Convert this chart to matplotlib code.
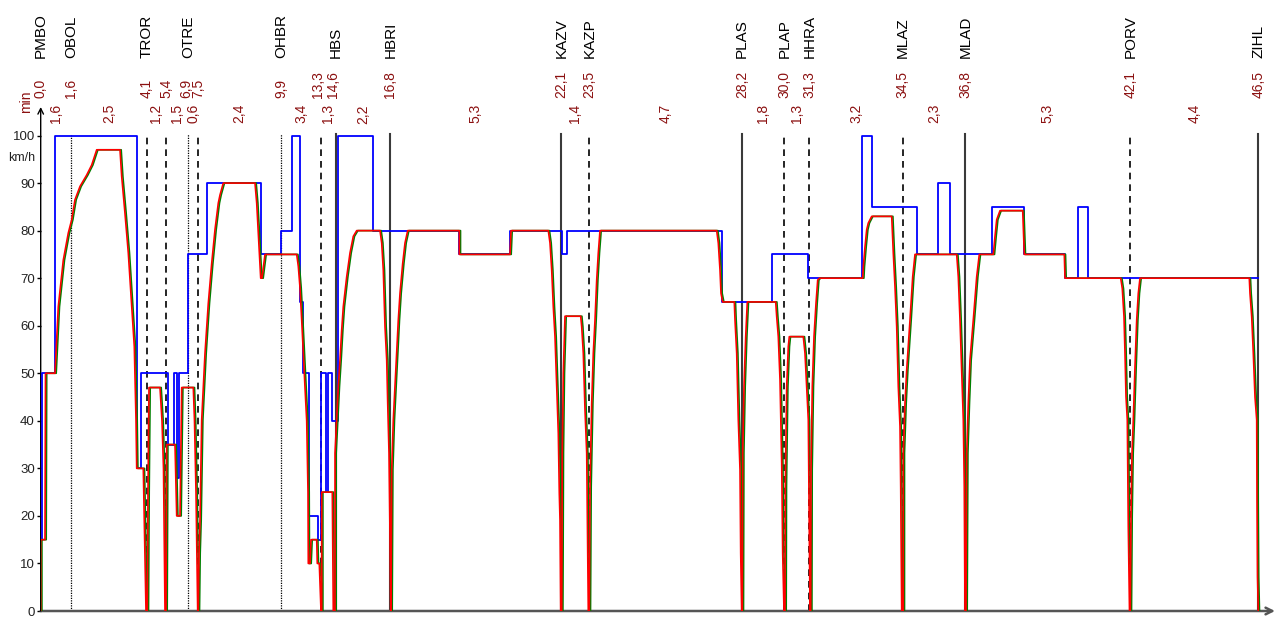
import matplotlib
matplotlib.use("Agg")
import matplotlib.pyplot as plt
import matplotlib.transforms as mtransforms

plt.rcParams['font.family'] = ['Liberation Sans', 'DejaVu Sans']

# ---------------- data ----------------
# stations: position along the line (m), names, arrival times (min), marker style
station_x = [0, 612, 2120, 2506, 2952, 3146, 4806, 5606, 5896, 6992, 10412, 10972,
             14026, 14872, 15372, 17240, 18492, 21792, 24352]
station_names = ['PMBO', 'OBOL', 'TROR', '', 'OTRE', '', 'OHBR', '', 'HBS', 'HBRI', 'KAZV',
                 'KAZP', 'PLAS', 'PLAP', 'HHRA', 'MLAZ', 'MLAD', 'PORV', 'ZIHL']
station_times = ['0,0', '1,6', '4,1', '5,4', '6,9', '7,5', '9,9', '13,3', '14,6', '16,8',
                 '22,1', '23,5', '28,2', '30,0', '31,3', '34,5', '36,8', '42,1', '46,5']
station_kind = ['axis', 'dotted', 'dashed', 'dashed', 'dotted', 'dashed', 'dotted', 'dashed',
                'solid', 'solid', 'solid', 'dashed', 'solid', 'dashed', 'dashed', 'dashed',
                'solid', 'dashed', 'solid']
segment_times = ['1,6', '2,5', '1,2', '1,5', '0,6', '2,4', '3,4', '1,3', '2,2', '5,3',
                 '1,4', '4,7', '1,8', '1,3', '3,2', '2,3', '5,3', '4,4']

# speed limit (step function, value valid from position onwards)
limit_x = [32, 32, 286, 1932, 2000, 2552, 2672, 2726, 2766, 2952, 3326, 4400, 4806, 5020,
           5186, 5240, 5372, 5552, 5606, 5706, 5752, 5832, 5940, 6652, 8372, 9386, 10420,
           10520, 13620, 14632, 15352, 16420, 16632, 17520, 17952, 18186, 19032, 19672,
           20486, 20740, 20952, 24352]
limit_v = [15, 50, 100, 30, 50, 35, 50, 28, 50, 75, 90, 75, 80, 100,
           65, 50, 20, 15, 50, 25, 50, 40, 100, 80, 75, 80, 75,
           80, 65, 75, 70, 100, 85, 75, 90, 75, 85, 75,
           70, 85, 70, 70]

# driven speed profile
speed_x = [0, 0, 86, 96, 286, 352, 452, 552, 620, 686, 786, 920, 1020, 1120, 1586, 1620,
           1686, 1752, 1820, 1872, 1906, 1920, 2052, 2086, 2106,
           2132, 2146, 2166, 2386, 2426, 2456, 2486,
           2506, 2520, 2686, 2720, 2786, 2806, 2820, 3052, 3076, 3106, 3140,
           3152, 3166, 3186, 3220, 3286, 3352, 3420, 3486, 3552, 3586, 3652, 4286, 4320,
           4352, 4386, 4400, 4426, 4486, 5120, 5152, 5186, 5220, 5252, 5286, 5320, 5346,
           5352, 5386, 5406, 5520, 5532, 5572, 5606,
           5620, 5620, 5832, 5852,
           5886, 5886, 5920, 5952, 5986, 6020, 6052, 6120, 6186, 6252, 6320, 6786, 6820,
           6852, 6886, 6920, 6940, 6966, 6986, 7000,
           7006, 7020, 7052, 7086, 7120, 7152, 7186, 7240, 7286, 7340, 8372, 8372, 9386,
           9406, 10152, 10186, 10220, 10252, 10286, 10320, 10352, 10372, 10386, 10400,
           10420, 10432, 10452, 10486, 10800, 10820, 10852, 10886, 10920, 10940, 10952,
           10972, 10986, 11000, 11020, 11052, 11086, 11120, 11152, 11186, 13520, 13552,
           13586, 13606, 13640, 13872, 13886, 13920, 13952, 13986, 14000, 14020,
           14032, 14040, 14066, 14100, 14132, 14700, 14720, 14752, 14786, 14820, 14840, 14866,
           14886, 14892, 14920, 14952, 14972, 15252, 15286, 15320, 15352, 15372, 15386,
           15400, 15406, 15432, 15466, 15506, 15540, 15572, 16440, 16452, 16486, 16520,
           16552, 16620, 17020, 17052, 17086, 17120, 17152, 17186, 17200, 17220,
           17252, 17252, 17286, 17320, 17386, 17440, 17486, 18320, 18352, 18386, 18420,
           18452, 18472, 18486,
           18506, 18520, 18552, 18586, 18652, 18720, 18772, 19052, 19086, 19120, 19186,
           19640, 19672, 20472, 20486, 21600, 21632, 21666, 21686, 21706, 21732, 21752, 21776,
           21792, 21806, 21826, 21852, 21886, 21920, 21952, 21986, 24172, 24186, 24220,
           24252, 24286, 24320, 24326, 24336, 24352]
speed_v = [0, 15, 15, 50, 50, 64, 73.8, 79.5, 82.3, 86.5, 89.3, 91.7, 93.8, 97, 97, 91.4,
           83.6, 75.3, 64, 55.6, 40.2, 30, 30, 10.7, 0,
           0, 25, 47, 47, 40, 30, 0,
           0, 35, 35, 20, 20, 35, 47, 47, 40, 25, 0,
           0, 12.1, 19.1, 40.2, 54.2, 64.7, 73.1, 80.2, 85.8, 87.5, 90, 90, 85.8,
           79.5, 72.5, 70, 70, 75, 75, 72.5, 68, 61.2, 54.2, 47, 40, 25,
           10, 10, 15, 15, 10, 10, 0,
           0, 25, 25, 0,
           0, 33.2, 40.2, 47.2, 52.8, 59.1, 64, 70.3, 75.3, 78.8, 80, 80, 77.4,
           71.7, 59.8, 52.8, 43.7, 33.2, 15.6, 0,
           0, 29.7, 40.2, 47.2, 54.2, 61.2, 66.8, 73.1, 77.4, 80, 80, 75, 75,
           80, 80, 77.4, 71.7, 64, 57.7, 47.2, 37.4, 24.8, 19.1, 0,
           0, 33.2, 50, 62, 62, 59.8, 54.2, 42.3, 33.2, 13.5, 0,
           0, 26.2, 33.2, 43.7, 54.2, 61.2, 69.6, 75.3, 80, 80, 77.4,
           71.7, 66.8, 65, 65, 61.2, 54.2, 40.2, 29.7, 12.1, 0,
           0, 33.2, 47.2, 57.7, 65, 65, 61.9, 57.7, 48.6, 31.1, 12.1, 0,
           0, 26.2, 47.2, 55.6, 57.7, 57.7, 54.2, 47.2, 40.2, 15.6, 0,
           0, 29.7, 47.2, 57.7, 64.7, 69.6, 70, 70, 72.4, 76.6, 80.2,
           81.6, 83, 83, 75.3, 68.2, 59.8, 47.2, 38.8, 26.2, 0,
           0, 33.2, 43.7, 50.7, 61.2, 70.3, 75, 75, 70.3, 61.2, 50.7,
           40.2, 26.2, 0,
           0, 33.2, 43.7, 52.8, 61.2, 70.3, 75, 75, 78.8, 82.3, 84.2,
           84.2, 75, 75, 70, 70, 67.8, 61.9, 54.2, 45.1, 40.2, 17.7, 0,
           0, 20, 33.2, 40.2, 51.4, 61.2, 66.8, 70, 70, 66.8, 61.9,
           54.2, 45, 40.2, 23, 7.2, 0]

# ---------------- figure ----------------
W, H = 1283, 619
fig = plt.figure(figsize=(W / 100, H / 100), dpi=100)
ax_left_px, ax_right_px, ax_bottom_px, ax_top_px = 40.7, 1275, 611, 107
ax = fig.add_axes([ax_left_px / W, 1 - ax_bottom_px / H,
                   (ax_right_px - ax_left_px) / W, (ax_bottom_px - ax_top_px) / H])
xmax = 24686
ax.set_xlim(0, xmax)
ax.set_ylim(0, 106)
for s in ax.spines.values():
    s.set_visible(False)
ax.set_xticks([])
ax.set_yticks(range(0, 101, 10))
ax.tick_params(axis='y', length=3.2, width=1, pad=1, labelsize=9.5,
               labelcolor='#222222', color='black')

# axes with arrows
ax.annotate('', xy=(xmax, 0), xytext=(0, 0), annotation_clip=False,
            arrowprops=dict(arrowstyle='->', color='#555555', lw=1.8,
                            shrinkA=0, shrinkB=0, mutation_scale=12))
ax.annotate('', xy=(0, 106), xytext=(0, 0), annotation_clip=False,
            arrowprops=dict(arrowstyle='->', color='black', lw=1.0,
                            shrinkA=0, shrinkB=0, mutation_scale=10))

# station lines
styles = {
    'solid': dict(color='#3a3a3a', lw=1.5, ls='-'),
    'dashed': dict(color='black', lw=1.2, ls=(0, (4, 3))),
    'dotted': dict(color='black', lw=0.9, ls=(0, (1, 1))),
}
for x, k in zip(station_x, station_kind):
    if k in styles:
        ax.plot([x, x], [0, 100.4], zorder=2, **styles[k])

# speed limit and speed profile
ax.step(limit_x, limit_v, where='post', color='#0000FF', lw=1.3, zorder=3)
green_tr = mtransforms.offset_copy(ax.transData, fig=fig, x=1.2, y=0, units='dots')
ax.plot(speed_x, speed_v, color='#008000', lw=1.2, zorder=4, transform=green_tr)
ax.plot(speed_x, speed_v, color='#FF0000', lw=1.2, zorder=5)

# texts
trans = mtransforms.blended_transform_factory(ax.transData, fig.transFigure)
dark_red = '#8B1010'
time_nudge_px = {4: -2, 7: -3, 8: -3}

for i, (x, name, t) in enumerate(zip(station_x, station_names, station_times)):
    if name:
        ax.text(x, 1 - 58 / H, name, rotation=90, ha='center', va='bottom',
                fontsize=11, color='black', transform=trans, clip_on=False)
    tr = mtransforms.offset_copy(trans, fig=fig, x=time_nudge_px.get(i, 0), y=0,
                                 units='dots')
    ax.text(x, 1 - 98 / H, t, rotation=90, ha='center', va='bottom',
            fontsize=10, color=dark_red, transform=tr, clip_on=False)

for i, t in enumerate(segment_times):
    xm = (station_x[i] + station_x[i + 1]) / 2
    ax.text(xm, 1 - 104 / H, t, rotation=90, ha='center', va='top',
            fontsize=10, color=dark_red, transform=trans, clip_on=False)

fig.text(26 / W, 1 - 102 / H, 'min', rotation=90, ha='center', va='center',
         fontsize=10, color=dark_red)
fig.text(22 / W, 1 - 158 / H, 'km/h', ha='center', va='center',
         fontsize=9, color='#222222')

fig.savefig('out.png', dpi=100)
